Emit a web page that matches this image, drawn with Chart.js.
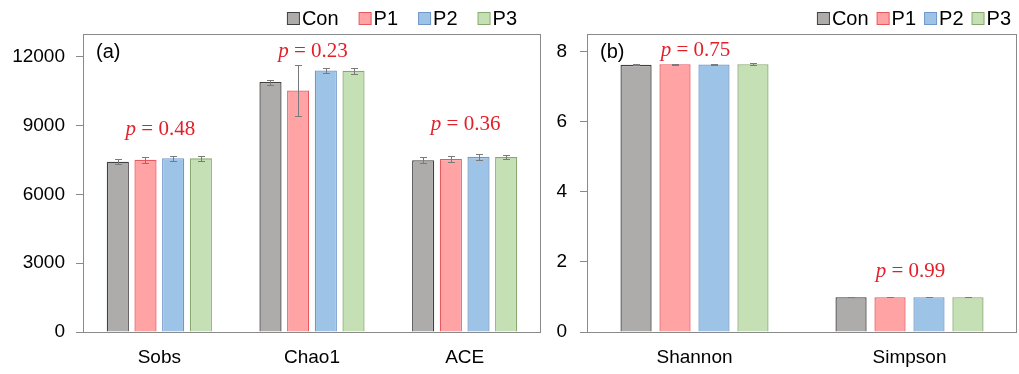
<!DOCTYPE html>
<html>
<head>
<meta charset="utf-8">
<title>Alpha diversity indices</title>
<script src="https://cdn.jsdelivr.net/npm/chart.js@4"></script>
<style>
  html, body { margin: 0; padding: 0; background: #ffffff; }
  #wrap { position: relative; width: 1019px; height: 374px; overflow: hidden; }
  #panelA { position: absolute; left: 0; top: 0; }
  #panelB { position: absolute; left: 548px; top: 0; }
</style>
</head>
<body>
<div id="wrap">
  <canvas id="panelA" width="548" height="374"></canvas>
  <canvas id="panelB" width="471" height="374"></canvas>
</div>
<script>
// ---- data ----
const groups = ['Con', 'P1', 'P2', 'P3'];

// (a) richness indices
const categoriesA = ['Sobs', 'Chao1', 'ACE'];
const conA = [7430, 10905, 7490];
const p1A = [7510, 10533, 7550];
const p2A = [7585, 11410, 7640];
const p3A = [7575, 11400, 7630];
const conAErr = [110, 110, 130];
const p1AErr = [125, 1125, 130];
const p2AErr = [110, 90, 120];
const p3AErr = [100, 125, 80];
const pValuesA = ['0.48', '0.23', '0.36'];
const pLabelAtA = [8600, 12000, 8800];
const yTicksA = [0, 3000, 6000, 9000, 12000];

// (b) diversity indices
const categoriesB = ['Shannon', 'Simpson'];
const conB = [7.62, 0.99];
const p1B = [7.64, 0.99];
const p2B = [7.63, 0.99];
const p3B = [7.64, 0.99];
const conBErr = [0.015, 0.001];
const p1BErr = [0.01, 0.001];
const p2BErr = [0.02, 0.001];
const p3BErr = [0.02, 0.001];
const pValuesB = ['0.75', '0.99'];
const pLabelAtB = [7.88, 1.56];
const yTicksB = [0, 2, 4, 6, 8];

// ---- styling ----
const fills   = ['#aeabab', '#ffa3a5', '#9dc3e6', '#c5e0b4'];
const borders = ['#404040', '#e8585c', '#6f97c9', '#88a86f'];
const axisGray = '#8a8a8a';
const errGray = '#7a7a7a';
const pRed = '#e3202a';
const SANS = '"Liberation Sans", Arial, sans-serif';
const SERIF = '"Liberation Serif", "Times New Roman", serif';

// Error bars with caps, drawn from each dataset's `errors` array
const errorBars = {
  id: 'errorBars',
  afterDatasetsDraw(chart) {
    const { ctx } = chart;
    const y = chart.scales.y;
    ctx.save();
    ctx.strokeStyle = errGray;
    ctx.lineWidth = 1;
    chart.data.datasets.forEach((ds, i) => {
      const meta = chart.getDatasetMeta(i);
      meta.data.forEach((bar, j) => {
        const v = ds.data[j], e = ds.errors[j];
        const yt = Math.round(y.getPixelForValue(v + e)) + 0.5;
        const yb = Math.round(y.getPixelForValue(v - e)) + 0.5;
        const x = Math.round(bar.x) + 0.5;
        const cap = 3.5;
        ctx.beginPath();
        ctx.moveTo(x, yt); ctx.lineTo(x, yb);
        ctx.moveTo(x - cap, yt); ctx.lineTo(x + cap, yt);
        ctx.moveTo(x - cap, yb); ctx.lineTo(x + cap, yb);
        ctx.stroke();
      });
    });
    ctx.restore();
  }
};

// Plot frame, panel tag, p-value annotations and the legend row
const decorations = {
  id: 'decorations',
  afterDraw(chart, args, o) {
    const { ctx, chartArea: a } = chart;
    const x = chart.scales.x, y = chart.scales.y;
    ctx.save();
    // frame
    ctx.strokeStyle = axisGray;
    ctx.lineWidth = 1;
    ctx.strokeRect(Math.round(a.left) + 0.5, Math.round(a.top) + 0.5,
                   Math.round(a.right - a.left) - 1, Math.round(a.bottom - a.top));
    // panel tag
    ctx.fillStyle = '#000';
    ctx.font = '20px ' + SANS;
    ctx.textAlign = 'left';
    ctx.textBaseline = 'middle';
    ctx.fillText(o.tag, a.left + 13, a.top + 18);
    // p-values
    o.pValues.forEach((pv, i) => {
      const cx = x.getPixelForValue(i);
      const by = y.getPixelForValue(o.pAt[i]);
      ctx.font = 'italic 21px ' + SERIF;
      const w1 = ctx.measureText('p').width;
      ctx.font = '21px ' + SERIF;
      const rest = ' = ' + pv;
      const w2 = ctx.measureText(rest).width;
      const x0 = cx - (w1 + w2) / 2 + 1;
      ctx.fillStyle = pRed;
      ctx.textAlign = 'left';
      ctx.textBaseline = 'alphabetic';
      ctx.font = 'italic 21px ' + SERIF;
      ctx.fillText('p', x0, by);
      ctx.font = '21px ' + SERIF;
      ctx.fillText(rest, x0 + w1, by);
    });
    // legend, right aligned
    ctx.font = '20px ' + SANS;
    const box = 12, gapText = 3;
    const items = chart.data.datasets.map(ds => ({
      label: ds.label, fill: ds.backgroundColor, stroke: ds.borderColor,
      w: ctx.measureText(ds.label).width
    }));
    let total = 0;
    items.forEach((it, i) => { total += box + gapText + it.w + (i < items.length - 1 ? o.legendGap : 0); });
    let lx = o.legendRight - total;
    const ly = 18.5;
    items.forEach(it => {
      ctx.fillStyle = it.fill;
      ctx.fillRect(lx + 0.5, ly - box / 2, box, box);
      ctx.strokeStyle = it.stroke;
      ctx.lineWidth = 1;
      ctx.strokeRect(lx + 0.5, ly - box / 2, box, box);
      ctx.fillStyle = '#000';
      ctx.textAlign = 'left';
      ctx.textBaseline = 'middle';
      ctx.fillText(it.label, lx + box + gapText, ly + 1);
      lx += box + gapText + it.w + o.legendGap;
    });
    ctx.restore();
  }
};

function makeDatasets(series, errs) {
  return series.map((vals, i) => ({
    label: groups[i],
    data: vals,
    errors: errs[i],
    backgroundColor: fills[i],
    borderColor: borders[i],
    borderWidth: 1.3,
    categoryPercentage: 0.725,
    barPercentage: 0.8
  }));
}

function makeChart(canvasId, cats, series, errs, yMax, ticks, axisW, padRight, tickPad, deco) {
  return new Chart(document.getElementById(canvasId), {
    type: 'bar',
    data: { labels: cats, datasets: makeDatasets(series, errs) },
    plugins: [errorBars, decorations],
    options: {
      responsive: false,
      animation: false,
      devicePixelRatio: 1,
      layout: { padding: { top: 34, right: padRight, left: 0, bottom: 0 } },
      plugins: {
        legend: { display: false },
        tooltip: { enabled: false },
        decorations: deco
      },
      scales: {
        x: {
          grid: { display: false, drawTicks: false },
          border: { display: false },
          ticks: { color: '#000', font: { family: SANS, size: 19 }, padding: 14 },
          afterFit(s) { s.height = 42; }
        },
        y: {
          min: 0,
          max: yMax,
          grid: { drawOnChartArea: false, drawTicks: true, tickLength: 7, color: axisGray, lineWidth: 1 },
          border: { display: true, color: axisGray, width: 1 },
          ticks: {
            color: '#000',
            font: { family: SANS, size: 19 },
            padding: tickPad,
            callback: v => String(v)
          },
          afterBuildTicks(s) { s.ticks = ticks.map(v => ({ value: v })); },
          afterFit(s) { s.width = axisW; }
        }
      }
    }
  });
}

makeChart('panelA', categoriesA, [conA, p1A, p2A, p3A], [conAErr, p1AErr, p2AErr, p3AErr],
  13000, yTicksA, 83, 7, 11,
  { tag: '(a)', pValues: pValuesA, pAt: pLabelAtA, legendRight: 517, legendGap: 20 });

makeChart('panelB', categoriesB, [conB, p1B, p2B, p3B], [conBErr, p1BErr, p2BErr, p3BErr],
  8.5, yTicksB, 39, 2, 13,
  { tag: '(b)', pValues: pValuesB, pAt: pLabelAtB, legendRight: 463, legendGap: 8 });
</script>
</body>
</html>
